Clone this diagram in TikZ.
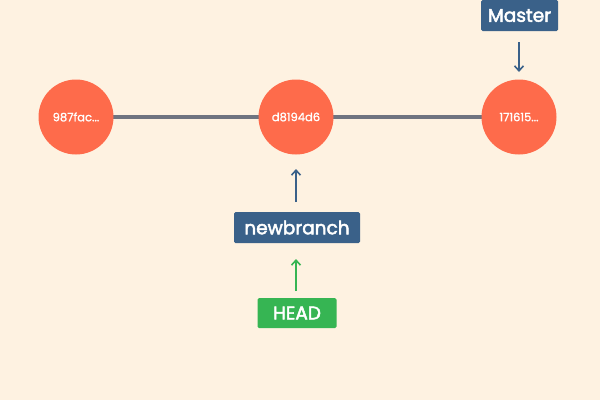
\documentclass[tikz,border=0pt]{standalone}
\usepackage{fontspec}
\setmainfont{Poppins}
\newfontfamily\labelfont[FakeBold=1.2]{Poppins}
\newfontfamily\boxfont[FakeBold=2.6]{Poppins}
\usetikzlibrary{arrows.meta}
\definecolor{bg}{HTML}{FEF2E1}
\definecolor{commit}{HTML}{FE6B4B}
\definecolor{bluebox}{HTML}{3A6189}
\definecolor{greenbox}{HTML}{36B553}
\definecolor{linegray}{HTML}{6F7480}
\tikzset{
  x=1pt, y=-1pt,
  commitnode/.style={circle, fill=commit, minimum size=75pt, inner sep=0pt, text=white, font=\labelfont\fontsize{11.5}{13}\selectfont},
  refbox/.style={rounded corners=1.5pt, fill=bluebox, text=white, inner sep=0pt, font=\boxfont\fontsize{18.5}{20}\selectfont},
  headbox/.style={refbox, fill=greenbox},
  ptr/.style={-{Straight Barb[length=5pt,width=9pt]}, line width=1.6pt, draw=bluebox},
}
\begin{document}
\begin{tikzpicture}
\fill[bg] (0,0) rectangle (600,400);
\useasboundingbox (0,0) rectangle (600,400);
\draw[linegray, line width=3.5pt] (76,117) -- (519,117);
\node[commitnode] (c1) at (76,117) {987fac...};
\node[commitnode] (c2) at (296,117) {d8194d6};
\node[commitnode] (c3) at (519,117) {171615...};
\node[refbox, minimum width=77pt, minimum height=31pt] (master) at (519.5,15.5) {Master};
\node[refbox, minimum width=126pt, minimum height=31pt] (nb) at (297,227.5) {newbranch};
\node[headbox, minimum width=79pt, minimum height=30pt] (head) at (297,313) {HEAD};
\coordinate (ma) at (519,42);
\coordinate (mb) at (519,72);
\draw[ptr] (ma) -- (mb);
\coordinate (na) at (296,202);
\coordinate (nbb) at (296,169);
\draw[ptr] (na) -- (nbb);
\coordinate (ha) at (296,291);
\coordinate (hb) at (296,259);
\draw[ptr, draw=greenbox] (ha) -- (hb);
\end{tikzpicture}
\end{document}
